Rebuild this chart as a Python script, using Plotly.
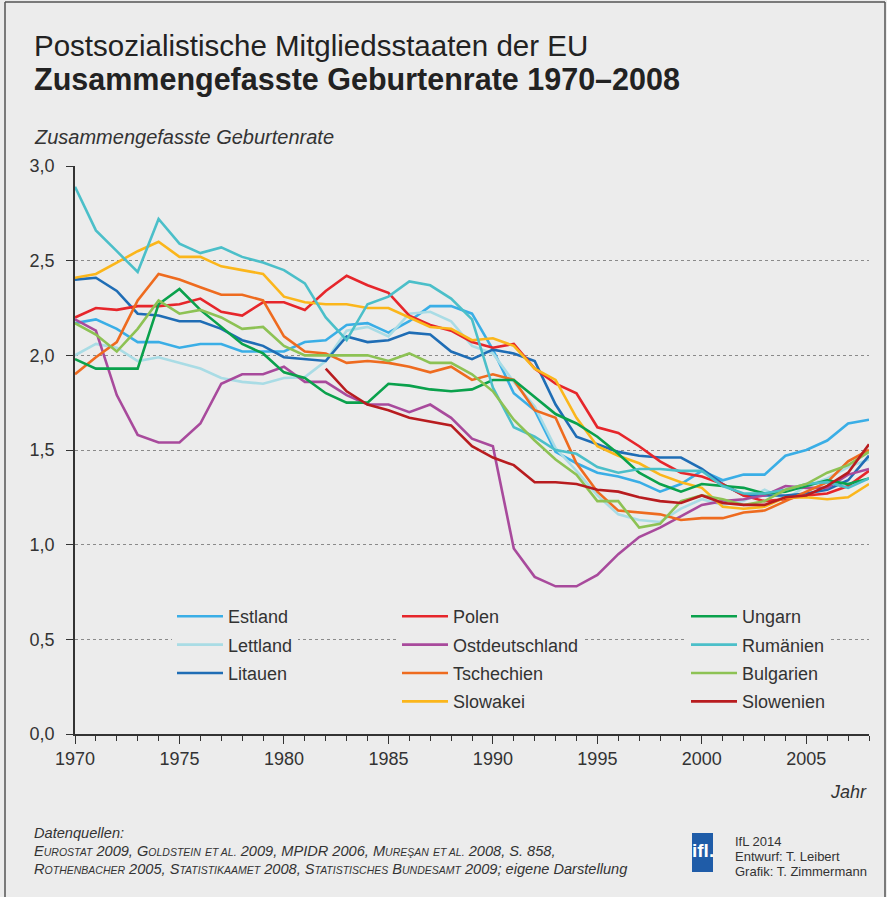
import plotly.graph_objects as go

years = list(range(1970, 2009))

estland = [2.17, 2.19, 2.14, 2.07, 2.07, 2.04, 2.06, 2.06, 2.02, 2.02,
           2.02, 2.07, 2.08, 2.16, 2.17, 2.12, 2.18, 2.26, 2.26, 2.22,
           2.03, 1.80, 1.71, 1.49, 1.43, 1.38, 1.36, 1.33, 1.28, 1.32,
           1.39, 1.34, 1.37, 1.37, 1.47, 1.50, 1.55, 1.64, 1.66]
lettland = [2.00, 2.06, 2.04, 1.97, 1.99, 1.96, 1.93, 1.88, 1.86, 1.85,
            1.88, 1.885, 1.97, 2.13, 2.15, 2.10, 2.22, 2.23, 2.18, 2.05,
            2.01, 1.86, 1.73, 1.51, 1.39, 1.26, 1.16, 1.13, 1.12, 1.19,
            1.24, 1.21, 1.23, 1.29, 1.24, 1.31, 1.35, 1.41, 1.45]
litauen = [2.40, 2.41, 2.34, 2.22, 2.21, 2.18, 2.18, 2.14, 2.08, 2.05,
           1.99, 1.98, 1.97, 2.10, 2.07, 2.08, 2.12, 2.11, 2.02, 1.98,
           2.03, 2.01, 1.97, 1.74, 1.57, 1.53, 1.49, 1.47, 1.46, 1.46,
           1.40, 1.32, 1.26, 1.26, 1.26, 1.27, 1.29, 1.34, 1.47]
polen = [2.20, 2.25, 2.24, 2.26, 2.26, 2.27, 2.30, 2.23, 2.21, 2.28,
         2.28, 2.24, 2.34, 2.42, 2.37, 2.33, 2.21, 2.16, 2.13, 2.07,
         2.04, 2.06, 1.93, 1.85, 1.80, 1.62, 1.59, 1.52, 1.44, 1.38,
         1.36, 1.32, 1.26, 1.23, 1.24, 1.26, 1.27, 1.31, 1.39]
ostdeutschland = [2.19, 2.13, 1.79, 1.58, 1.54, 1.54, 1.64, 1.85, 1.90, 1.90,
                  1.94, 1.86, 1.86, 1.79, 1.74, 1.74, 1.70, 1.74, 1.67, 1.56,
                  1.52, 0.98, 0.83, 0.78, 0.78, 0.84, 0.95, 1.04, 1.09, 1.15,
                  1.21, 1.23, 1.24, 1.26, 1.31, 1.30, 1.30, 1.37, 1.40]
tschechien = [1.90, 1.99, 2.07, 2.29, 2.43, 2.40, 2.36, 2.32, 2.32, 2.29,
              2.10, 2.02, 2.01, 1.96, 1.97, 1.96, 1.94, 1.91, 1.94, 1.87,
              1.90, 1.87, 1.71, 1.67, 1.43, 1.28, 1.18, 1.17, 1.16, 1.13,
              1.14, 1.14, 1.17, 1.18, 1.23, 1.28, 1.33, 1.44, 1.50]
slowakei = [2.41, 2.43, 2.49, 2.55, 2.60, 2.52, 2.52, 2.47, 2.45, 2.43,
            2.31, 2.28, 2.27, 2.27, 2.25, 2.25, 2.20, 2.15, 2.14, 2.08,
            2.09, 2.05, 1.93, 1.87, 1.67, 1.52, 1.47, 1.43, 1.37, 1.33,
            1.30, 1.20, 1.19, 1.20, 1.25, 1.25, 1.24, 1.25, 1.32]
ungarn = [1.98, 1.93, 1.93, 1.93, 2.27, 2.35, 2.24, 2.15, 2.06, 2.01,
          1.91, 1.88, 1.80, 1.75, 1.75, 1.85, 1.84, 1.82, 1.81, 1.82,
          1.87, 1.87, 1.78, 1.69, 1.64, 1.57, 1.48, 1.38, 1.32, 1.28,
          1.32, 1.31, 1.30, 1.27, 1.28, 1.31, 1.34, 1.32, 1.35]
rumaenien = [2.89, 2.66, 2.55, 2.44, 2.72, 2.59, 2.54, 2.57, 2.52, 2.49,
             2.45, 2.38, 2.20, 2.08, 2.27, 2.31, 2.39, 2.37, 2.30, 2.19,
             1.83, 1.62, 1.57, 1.50, 1.48, 1.41, 1.38, 1.40, 1.40, 1.39,
             1.39, 1.31, 1.27, 1.27, 1.29, 1.32, 1.33, 1.30, 1.35]
bulgarien = [2.17, 2.11, 2.02, 2.14, 2.29, 2.22, 2.24, 2.20, 2.14, 2.15,
             2.05, 2.00, 2.00, 2.00, 2.00, 1.97, 2.01, 1.96, 1.96, 1.90,
             1.81, 1.66, 1.55, 1.45, 1.37, 1.23, 1.23, 1.09, 1.11, 1.23,
             1.26, 1.24, 1.21, 1.23, 1.29, 1.32, 1.38, 1.42, 1.49]
slowenien = [None] * 12 + [1.93, 1.81, 1.74, 1.71, 1.67, 1.65, 1.63, 1.52,
                           1.46, 1.42, 1.33, 1.33, 1.32, 1.29, 1.28, 1.25, 1.23, 1.22,
                           1.26, 1.22, 1.21, 1.21, 1.25, 1.26, 1.31, 1.38, 1.53]

x_ticks = [1970, 1975, 1980, 1985, 1990, 1995, 2000, 2005]
y_ticks = [0.0, 0.5, 1.0, 1.5, 2.0, 2.5, 3.0]

BG = "#ececec"
TXT = "#333333"
FONT = "Liberation Sans, Arial, Helvetica, sans-serif"

W, H = 887, 897
ML, MR, MT, MB = 75, 18, 166, 163
PW = W - ML - MR
PH = H - MT - MB


def px(x):
    return (x - ML) / PW


def py(y):
    return (H - MB - y) / PH


series = [
    ("Estland", estland, "#3aaee6", "legend"),
    ("Lettland", lettland, "#a9dce5", "legend"),
    ("Litauen", litauen, "#1f6db5", "legend"),
    ("Polen", polen, "#e6262b", "legend2"),
    ("Ostdeutschland", ostdeutschland, "#a84a9c", "legend2"),
    ("Tschechien", tschechien, "#ee6b1f", "legend2"),
    ("Slowakei", slowakei, "#fbb61b", "legend2"),
    ("Ungarn", ungarn, "#0aa14c", "legend3"),
    ("Rumänien", rumaenien, "#4bbfc9", "legend3"),
    ("Bulgarien", bulgarien, "#8dc254", "legend3"),
    ("Slowenien", slowenien, "#b81c1f", "legend3"),
]

fig = go.Figure()
for name, vals, col, leg in series:
    fig.add_trace(go.Scatter(
        x=years, y=vals, name=name, mode="lines",
        line=dict(color=col, width=2.6),
        legend=leg, legendgroup=name,
        connectgaps=False, hoverinfo="x+y+name",
    ))

leg_common = dict(
    bgcolor=BG, borderwidth=0, font=dict(family=FONT, size=18, color=TXT),
    xanchor="left", yanchor="top", tracegroupgap=2, itemwidth=46,
    orientation="v",
)
leg_top = py(598)

fig.update_layout(
    width=W, height=H,
    margin=dict(l=ML, r=MR, t=MT, b=MB, pad=0),
    paper_bgcolor=BG, plot_bgcolor=BG,
    separators=",.",
    font=dict(family=FONT, size=18, color=TXT),
    showlegend=True,
    legend=dict(x=px(172), y=leg_top, **leg_common),
    legend2=dict(x=px(397), y=leg_top, **leg_common),
    legend3=dict(x=px(686), y=leg_top, **leg_common),
    xaxis=dict(
        range=[1970, 2008], tickmode="array", tickvals=x_ticks,
        ticks="outside", ticklen=8, tickwidth=1.2, tickcolor=TXT,
        showline=True, linecolor=TXT, linewidth=1.6,
        showgrid=False, zeroline=False,
        tickfont=dict(family=FONT, size=18, color=TXT),
        minor=dict(dtick=1, tick0=1970, ticks="outside", ticklen=5,
                   tickwidth=1, tickcolor=TXT, showgrid=False),
        fixedrange=True,
    ),
    yaxis=dict(
        range=[0, 3], tickmode="array", tickvals=y_ticks, tickformat=".1f",
        ticks="outside", ticklen=7, tickwidth=1.2, tickcolor=TXT,
        showline=True, linecolor=TXT, linewidth=1.6,
        showgrid=True, gridcolor="#8a8a8a", gridwidth=1, griddash="dot",
        zeroline=False, ticklabelstandoff=8,
        tickfont=dict(family=FONT, size=18, color=TXT),
        fixedrange=True,
    ),
)

ann = []
ann.append(dict(text="Postsozialistische Mitgliedsstaaten der EU",
                x=px(32), y=py(45), xanchor="left", yanchor="middle",
                font=dict(family=FONT, size=29.5, color="#222222")))
ann.append(dict(text="<b>Zusammengefasste Geburtenrate 1970–2008</b>",
                x=px(32), y=py(79), xanchor="left", yanchor="middle",
                font=dict(family=FONT, size=30.5, color="#222222")))
ann.append(dict(text="<i>Zusammengefasste Geburtenrate</i>",
                x=px(32), y=py(137), xanchor="left", yanchor="middle",
                font=dict(family=FONT, size=20, color=TXT)))
ann.append(dict(text="<i>Jahr</i>",
                x=px(869), y=py(792), xanchor="right", yanchor="middle",
                font=dict(family=FONT, size=18, color=TXT)))


def sc(word, small=10.5):
    return word[0] + '<span style="font-size:%spx">%s</span>' % (small, word[1:].upper())


def sm(text, small=10.5):
    return '<span style="font-size:%spx">%s</span>' % (small, text.upper())


src1 = "<i>Datenquellen:</i>"
src2 = ("<i>" + sc("Eurostat") + " 2009, " + sc("Goldstein") + " " + sm("et al.") +
        " 2009, MPIDR 2006, " + sc("Mureşan") + " " + sm("et al.") +
        " 2008, S. 858,</i>")
src3 = ("<i>" + sc("Rothenbacher") + " 2005, " + sc("Statistikaamet") + " 2008, " +
        sc("Statistisches") + " " + sc("Bundesamt") + " 2009; eigene Darstellung</i>")
for t, yy in [(src1, 833), (src2, 851), (src3, 869)]:
    ann.append(dict(text=t, x=px(32), y=py(yy), xanchor="left", yanchor="middle",
                    font=dict(family=FONT, size=14.6, color=TXT)))

for t, yy in [("IfL 2014", 841), ("Entwurf: T. Leibert", 856),
              ("Grafik: T. Zimmermann", 871)]:
    ann.append(dict(text=t, x=px(733), y=py(yy), xanchor="left", yanchor="middle",
                    font=dict(family=FONT, size=13, color=TXT)))

ann.append(dict(text="<b>ifl.</b>", x=px(702.5), y=py(850), xanchor="center",
                yanchor="middle", font=dict(family=FONT, size=19, color="white")))

for a in ann:
    a.update(xref="paper", yref="paper", showarrow=False)
fig.update_layout(annotations=ann)

shapes = [
    dict(type="rect", x0=px(692), x1=px(713), y0=py(872), y1=py(833),
         fillcolor="#1f5ca8", line=dict(width=0), layer="below"),
    dict(type="line", x0=px(5), x1=px(5), y0=py(897), y1=py(2),
         line=dict(color="#555555", width=1.5)),
    dict(type="line", x0=px(5), x1=px(885), y0=py(2), y1=py(2),
         line=dict(color="#555555", width=1.5)),
    dict(type="line", x0=px(885), x1=px(885), y0=py(897), y1=py(2),
         line=dict(color="#555555", width=1.5)),
]
for s in shapes:
    s.update(xref="paper", yref="paper")
fig.update_layout(shapes=shapes)

fig.write_html(
    "out.html",
    config={"displayModeBar": False},
    post_script="document.body.style.margin='0px';"
                "document.body.style.background='#ececec';",
)
